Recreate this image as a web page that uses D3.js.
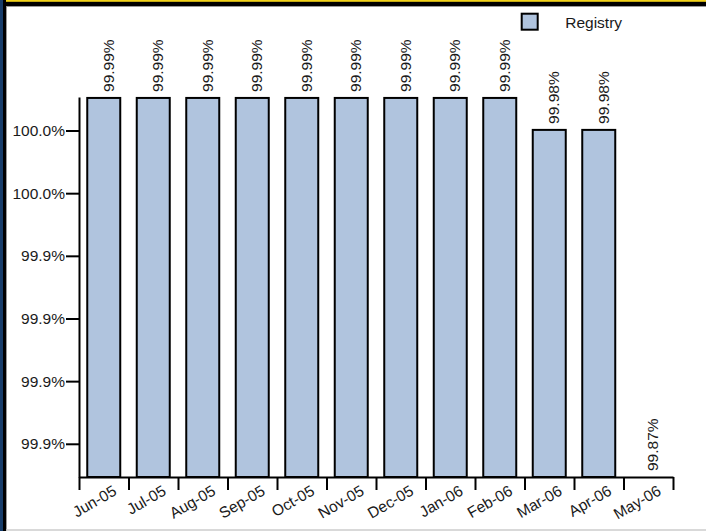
<!DOCTYPE html>
<html>
<head>
<meta charset="utf-8">
<script src="https://cdn.jsdelivr.net/npm/d3@7"></script>
<style>
  body { margin: 0; background: #fff; }
  svg { display: block; font-family: "Liberation Sans", Arial, sans-serif; }
  .axis path, .axis line { stroke: #000; stroke-width: 2; }
  .axis text { font-size: 15.5px; fill: #1a1a1a; font-family: "Liberation Sans", Arial, sans-serif; }
</style>
</head>
<body>
<svg id="chart"></svg>
<script>
const months = ['Jun-05', 'Jul-05', 'Aug-05', 'Sep-05', 'Oct-05', 'Nov-05',
  'Dec-05', 'Jan-06', 'Feb-06', 'Mar-06', 'Apr-06', 'May-06'];
const registry = [99.9904, 99.9904, 99.9904, 99.9904, 99.9904, 99.9904,
  99.9904, 99.9904, 99.9904, 99.9802, 99.9802, 99.8694];
const yTicks = [99.88, 99.90, 99.92, 99.94, 99.96, 99.98];
const seriesName = 'Registry';

const width = 706, height = 531;
const plot = { left: 79, right: 673, top: 97, bottom: 477 };
const fontSize = 15.5;

const svg = d3.select('#chart').attr('width', width).attr('height', height);

// frame
svg.append('rect').attr('x', 0).attr('y', 0).attr('width', width).attr('height', height).attr('fill', '#fff');
svg.append('rect').attr('x', 0).attr('y', 0).attr('width', width).attr('height', 6).attr('fill', '#000');
svg.append('rect').attr('x', 0).attr('y', 0).attr('width', width).attr('height', 1.8).attr('fill', '#f2d21a');
svg.append('rect').attr('x', 0).attr('y', 0).attr('width', 6).attr('height', height).attr('fill', '#000');
svg.append('rect').attr('x', 0).attr('y', 0).attr('width', 3).attr('height', height).attr('fill', '#173c69');
svg.append('line').attr('x1', 6).attr('x2', width).attr('y1', 6.5).attr('y2', 6.5).attr('stroke', '#999').attr('stroke-width', 1);
svg.append('line').attr('x1', 6.5).attr('x2', 6.5).attr('y1', 6).attr('y2', height).attr('stroke', '#999').attr('stroke-width', 1);
svg.append('line').attr('x1', 6).attr('x2', width).attr('y1', 530).attr('y2', 530).attr('stroke', '#ccc').attr('stroke-width', 1.5);

const x = d3.scaleBand()
  .domain(months)
  .range([plot.left, plot.right])
  .paddingInner(1 / 3)
  .paddingOuter(1 / 6);

const xEdges = d3.scaleLinear().domain([0, months.length]).range([plot.left, plot.right]);

const y = d3.scaleLinear()
  .domain([99.8694, 99.9907])
  .range([plot.bottom, plot.top]);

// bars
svg.append('g').selectAll('rect')
  .data(registry)
  .join('rect')
  .attr('x', (d, i) => x(months[i]))
  .attr('y', d => y(d))
  .attr('width', x.bandwidth())
  .attr('height', d => y.range()[0] - y(d))
  .attr('fill', '#b0c4de')
  .attr('stroke', '#000')
  .attr('stroke-width', 2);

// value labels
svg.append('g').selectAll('text')
  .data(registry)
  .join('text')
  .attr('transform', (d, i) => `translate(${x(months[i]) + x.bandwidth() / 2 + 10}, ${y(d) - 6}) rotate(-90)`)
  .attr('font-size', fontSize)
  .attr('fill', '#1a1a1a')
  .text(d => d3.format('.2f')(d) + '%');

// y axis
svg.append('g')
  .attr('class', 'axis')
  .attr('transform', `translate(${plot.left}, 0)`)
  .call(d3.axisLeft(y).tickValues(yTicks).tickSize(13).tickSizeOuter(0).tickPadding(1)
    .tickFormat(d => d3.format('.1f')(d) + '%'));

// x axis with ticks on band edges
svg.append('g')
  .attr('class', 'axis')
  .attr('transform', `translate(0, ${plot.bottom})`)
  .call(d3.axisBottom(xEdges).tickValues(d3.range(months.length + 1)).tickSize(13).tickSizeOuter(0).tickFormat(''));

svg.append('g').selectAll('text')
  .data(months)
  .join('text')
  .attr('transform', d => `translate(${x(d) + x.bandwidth() / 2 + 14}, ${plot.bottom + 17}) rotate(-30)`)
  .attr('text-anchor', 'end')
  .attr('font-size', fontSize)
  .attr('fill', '#1a1a1a')
  .text(d => d);

// legend
const legend = svg.append('g').attr('transform', 'translate(521.7, 13.7)');
legend.append('rect').attr('width', 16).attr('height', 16)
  .attr('fill', '#b0c4de').attr('stroke', '#000').attr('stroke-width', 2);
legend.append('text').attr('x', 43.5).attr('y', 13.8)
  .attr('font-size', fontSize).attr('fill', '#1a1a1a').text(seriesName);
</script>
</body>
</html>
